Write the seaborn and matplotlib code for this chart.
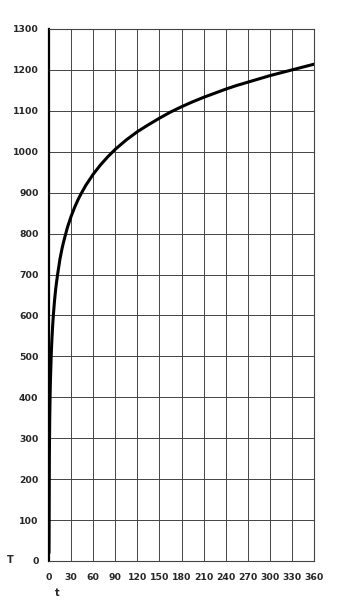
import matplotlib
matplotlib.use("Agg")
import matplotlib.pyplot as plt
import seaborn as sns
import pandas as pd

# time in minutes and temperature
t_min = [0, 0.5, 1, 1.5, 2, 3, 4, 5, 6, 7.5, 9, 10, 12, 15, 18, 20, 25, 30, 35, 40, 45, 50, 60,
         70, 80, 90, 105, 120, 135, 150, 165, 180, 195, 210, 225, 240, 255, 270, 285, 300, 315, 330, 345, 360]
temp = [20, 256, 349, 405, 445, 502, 544, 576, 603, 636, 663, 678, 704, 739, 766, 781, 815, 842, 865, 885,
        902, 918, 945, 968, 988, 1006, 1029, 1049, 1066, 1082, 1097, 1110, 1122, 1133, 1143, 1153, 1162,
        1170, 1178, 1186, 1193, 1200, 1207, 1214]
x_ticks = [0, 30, 60, 90, 120, 150, 180, 210, 240, 270, 300, 330, 360]
y_ticks = [0, 100, 200, 300, 400, 500, 600, 700, 800, 900, 1000, 1100, 1200, 1300]

sns.set_style("white")
plt.rcParams['font.family'] = ['DejaVu Sans']

df = pd.DataFrame({"t": t_min, "T": temp})

fig = plt.figure(figsize=(3.43, 6.03), dpi=100)
ax = fig.add_axes([49/343, 1-561/603, (314-49)/343, (561-29)/603])

sns.lineplot(data=df, x="t", y="T", ax=ax, color="black", linewidth=2.2)

ax.set_xlim(0, 360)
ax.set_ylim(0, 1300)
ax.set_xticks(x_ticks)
ax.set_yticks(y_ticks)
ax.set_xticklabels([str(v) for v in x_ticks], fontsize=6.7, fontweight="bold")
ax.set_yticklabels([str(v) for v in y_ticks], fontsize=6.7, fontweight="bold")
ax.tick_params(axis="y", length=0, pad=7.5)
ax.tick_params(axis="x", length=0, pad=9)
ax.grid(True, color="#444444", linewidth=0.7)
for side in ["top", "right", "bottom"]:
    ax.spines[side].set_color("#444444")
    ax.spines[side].set_linewidth(0.8)
ax.spines["left"].set_color("black")
ax.spines["left"].set_linewidth(1.6)
ax.set_xlabel("")
ax.set_ylabel("")

fig.text(10/343, 1-560/603, "T", fontsize=7, fontweight="bold", ha="center", va="center")
fig.text(57/343, 1-593/603, "t", fontsize=7, fontweight="bold", ha="center", va="center")

fig.savefig("out.png", dpi=100)
